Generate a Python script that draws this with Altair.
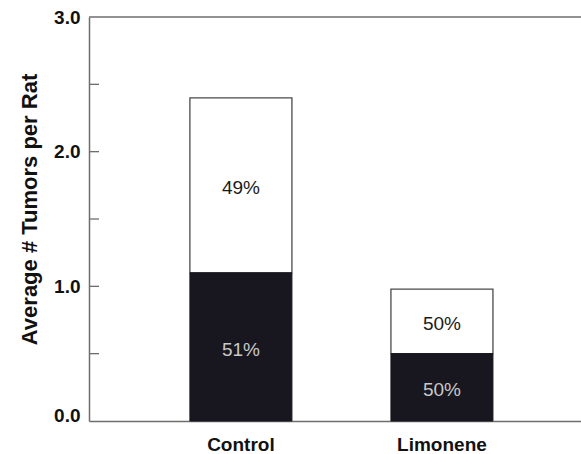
import altair as alt
import pandas as pd

groups = ["Control", "Limonene"]
dark_height = [1.10, 0.50]
total_height = [2.40, 0.98]
dark_pct = ["51%", "50%"]
light_pct = ["49%", "50%"]
y_tick_values = [0.0, 1.0, 2.0, 3.0]
minor_ticks = [0.5, 1.0, 1.5, 2.0, 2.5]

rows = []
for g, d, t, pd_, pl in zip(groups, dark_height, total_height, dark_pct, light_pct):
    rows.append({"group": g, "seg": "dark", "y0": 0.0, "y1": d, "pct": pd_})
    rows.append({"group": g, "seg": "light", "y0": d, "y1": t, "pct": pl})
df = pd.DataFrame(rows)
ticks_df = pd.DataFrame({"v": minor_ticks})
top_df = pd.DataFrame({"v": [3.0]})

FONT = "Liberation Sans"
GRAY = "#6e6e6e"

xscale = alt.Scale(domain=groups, paddingInner=0.4925, paddingOuter=0.47, align=0.534)
yscale = alt.Scale(domain=[0, 3], nice=False, zero=True)

x_enc = alt.X(
    "group:N",
    scale=xscale,
    sort=groups,
    axis=alt.Axis(
        title=None,
        labelAngle=0,
        ticks=False,
        tickSize=0,
        labelPadding=14,
        labelFont=FONT,
        labelFontSize=19,
        labelFontWeight="bold",
        labelColor="#111111",
        domainColor=GRAY,
        domainWidth=1.5,
        grid=False,
    ),
)

y_axis = alt.Axis(
    title="Average # Tumors per Rat",
    values=y_tick_values,
    format=".1f",
    ticks=False,
    tickSize=0,
    grid=False,
    labelPadding=9,
    labelFont=FONT,
    labelFontSize=19,
    labelFontWeight="bold",
    labelColor="#111111",
    labelBaseline={"condition": {"test": "datum.value == 0", "value": "alphabetic"}, "value": "middle"},
    domainColor=GRAY,
    domainWidth=1.5,
    titleFont=FONT,
    titleFontSize=22,
    titleFontWeight="bold",
    titleColor="#111111",
    titleAngle=270,
    titleAlign="center",
    titleBaseline="middle",
    titleX=-60,
    titleY=192,
)

light = alt.Chart(df).transform_filter("datum.seg == 'light'").mark_bar(
    fill="white", stroke="#4a4a4a", strokeWidth=1.3
).encode(
    x=x_enc,
    y=alt.Y("y1:Q", scale=yscale, axis=y_axis),
    y2="y0:Q",
)

dark = alt.Chart(df).transform_filter("datum.seg == 'dark'").mark_bar(
    fill="#18171f", stroke="#18171f", strokeWidth=1
).encode(
    x=alt.X("group:N", scale=xscale, sort=groups),
    y=alt.Y("y1:Q", scale=yscale),
    y2="y0:Q",
)

labels = alt.Chart(df).transform_calculate(
    mid="(datum.y0 + datum.y1) / 2"
).mark_text(font=FONT, fontSize=19, dy=3, baseline="middle").encode(
    x=alt.X("group:N", scale=xscale, sort=groups),
    y=alt.Y("mid:Q", scale=yscale),
    text="pct:N",
    color=alt.Color(
        "seg:N",
        scale=alt.Scale(domain=["dark", "light"], range=["#c8c8c8", "#1a1a1a"]),
        legend=None,
    ),
)

minor = alt.Chart(ticks_df).mark_rule(color=GRAY, strokeWidth=1.3).encode(
    y=alt.Y("v:Q", scale=yscale),
    x=alt.value(0),
    x2=alt.value(10),
)

top = alt.Chart(top_df).mark_rule(color=GRAY, strokeWidth=1.5).encode(
    y=alt.Y("v:Q", scale=yscale),
    x=alt.value(0),
    x2=alt.value(492),
)

chart = alt.layer(light, dark, labels, minor, top).properties(
    width=492,
    height=404,
    autosize=alt.AutoSizeParams(type="none"),
    padding={"left": 89, "top": 17, "right": 0, "bottom": 33},
    background="white",
).configure_view(stroke=None)

chart.save("out.html", embed_options={"renderer": "svg", "actions": False})
